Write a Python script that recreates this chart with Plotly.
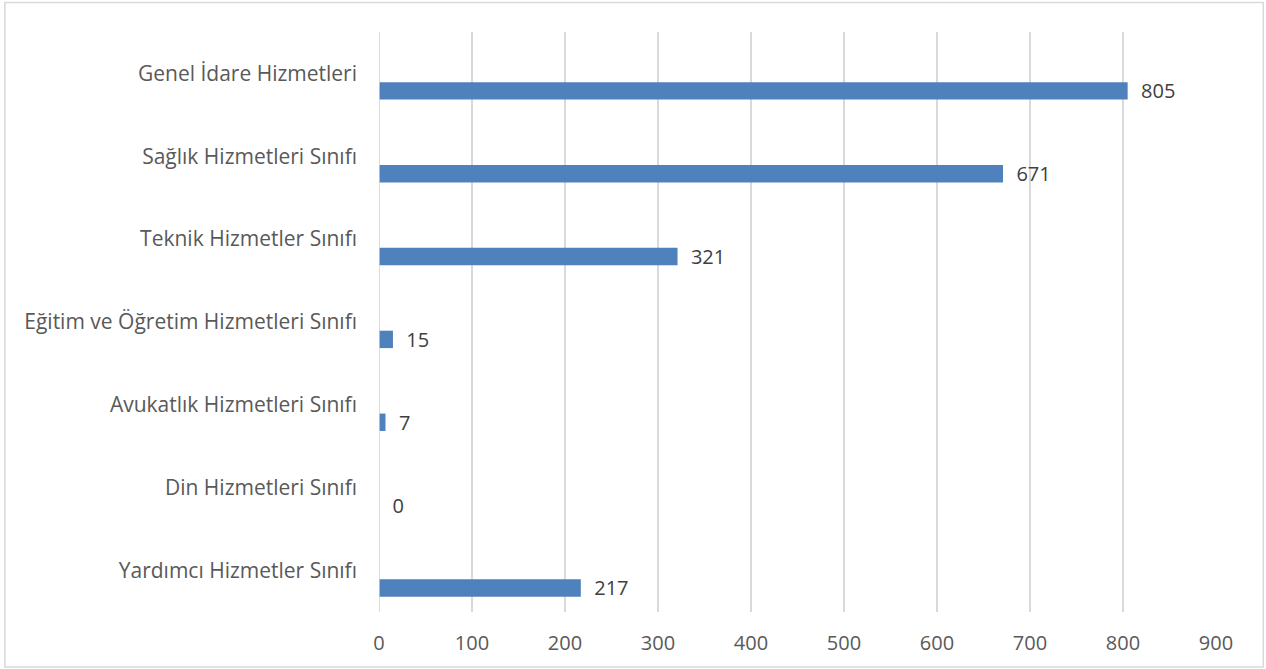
import plotly.graph_objects as go

categories = [
    "Genel İdare Hizmetleri",
    "Sağlık Hizmetleri Sınıfı",
    "Teknik Hizmetler Sınıfı",
    "Eğitim ve Öğretim Hizmetleri Sınıfı",
    "Avukatlık Hizmetleri Sınıfı",
    "Din Hizmetleri Sınıfı",
    "Yardımcı Hizmetler Sınıfı",
]
values = [805, 671, 321, 15, 7, 0, 217]
x_ticks = [0, 100, 200, 300, 400, 500, 600, 700, 800, 900]

FONT = "Open Sans"
fig = go.Figure()
fig.add_trace(go.Bar(
    y=categories, x=values, orientation="h",
    marker=dict(color="#4f81bd", line=dict(width=0)),
    width=0.21, offset=0.105,
    text=["\u00a0\u00a0" + str(v) for v in values],
    textposition="outside", cliponaxis=False, constraintext="none",
    textfont=dict(family=FONT, size=20, color="#404040"),
    hoverinfo="skip",
))

L, R, T, B = 379, 1266 - 1215.7, 32, 669 - 612
W, H = 1266, 669
pw, ph = W - L - R, H - T - B

def px_x(px):
    return (px - L) / pw

def px_y(py):
    return (H - B - py) / ph

fig.update_layout(
    width=W, height=H,
    margin=dict(l=L, r=R, t=T, b=B, pad=0),
    paper_bgcolor="white", plot_bgcolor="white",
    showlegend=False,
    font=dict(family=FONT, size=20, color="#595959"),
    xaxis=dict(range=[0, 900], tickvals=x_ticks, showgrid=True,
               gridcolor="#d9d9d9", gridwidth=1.5, zeroline=False,
               showline=False, ticks="", ticklabelstandoff=17,
               tickfont=dict(family=FONT, size=20, color="#595959")),
    yaxis=dict(type="category", categoryorder="array", categoryarray=categories,
               range=[6.5, -0.5], showgrid=False, zeroline=False,
               showline=False, ticks="", ticklabelstandoff=21,
               tickfont=dict(family=FONT, size=21, color="#595959")),
    shapes=[
        dict(type="line", xref="x", yref="paper", x0=0, x1=0, y0=0, y1=1,
             line=dict(color="#d0d0d0", width=1.5), layer="above"),
        dict(type="rect", xref="paper", yref="paper",
             x0=px_x(5), x1=px_x(1263), y0=px_y(667), y1=px_y(2.5),
             line=dict(color="#d9d9d9", width=1.5)),
    ],
)
fig.write_html("out.html", config={"displayModeBar": False, "staticPlot": True},
               post_script="document.body.style.margin='0';document.body.style.overflow='hidden';")
